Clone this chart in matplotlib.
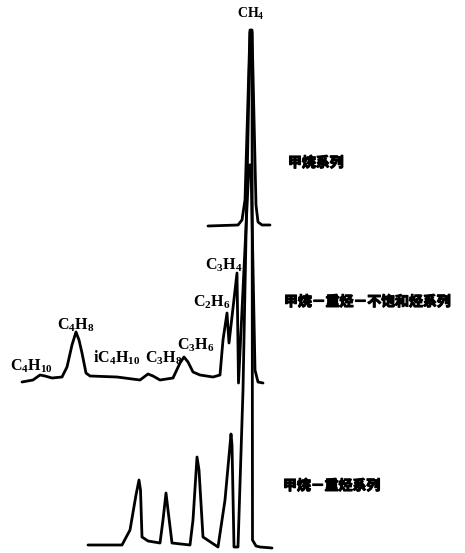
import matplotlib
matplotlib.use('Agg')
import matplotlib.pyplot as plt
import matplotlib.patheffects as pe

plt.rcParams['mathtext.fontset'] = 'custom'
plt.rcParams['mathtext.rm'] = 'Liberation Serif'
plt.rcParams['mathtext.bf'] = 'Liberation Serif:bold'

# --- trace 1 : 甲烷系列 (top) ---
t_a = [208, 238, 242, 245, 250, 252, 256, 258, 262, 270]
r_a = [-1, 0, 5, 25, 195, 195, 20, 3, 0, 0]
base_a = 328

# --- trace 2 : 甲烷-重烃-不饱和烃系列 (middle) ---
t_b = [22, 33, 40, 45, 52, 62, 67, 72, 76, 79, 82, 86, 90, 117, 140,
       148, 153, 160, 173, 180, 184, 188, 193, 200, 213, 220, 223, 227,
       229, 237, 238.5, 249, 251, 255, 258, 263]
r_b = [-1, 1, 6, 5, 3, 4, 14, 36, 49, 41, 28, 8, 5, 4, 1,
       7, 5, 1, 3, 18, 24, 19, 9, 6, 4, 6, 41, 68,
       38, 108, -2, 216, 216, 11, -1, -2]
base_b = 172

# --- trace 3 : 甲烷-重烃系列 (bottom) ---
t_c = [88, 122, 130, 136, 139, 140.5, 142, 148, 160, 163, 166, 168, 172,
       190, 193, 197, 199, 203, 212, 218, 225, 231, 232, 234, 238, 243,
       250, 252, 252.5, 256, 260, 272]
r_c = [0, 0, 15, 50, 65, 55, 8, 4, 2, 25, 52, 35, 2,
       0, 25, 88, 75, 8, 2, -2, 45, 111, 100, -2, -2, 155,
       513, 513, 5, -1, -2, -3]
base_c = 8

peak_labels = [r'$\mathbf{C_4H_{10}}$', r'$\mathbf{C_4H_8}$', r'$\mathbf{iC_4H_{10}}$',
               r'$\mathbf{C_3H_8}$', r'$\mathbf{C_3H_6}$', r'$\mathbf{C_2H_6}$',
               r'$\mathbf{C_3H_4}$']
label_x = [10, 57, 93, 145, 177, 193, 205]
label_y = [187, 228, 195, 195, 208, 251, 288]

series_names = ['甲烷系列', '甲烷－重烃－不饱和烃系列', '甲烷－重烃系列']
series_x = [288, 284, 283]
series_y = [390, 251, 67]

fig = plt.figure(figsize=(4.65, 5.53), dpi=100)
ax = fig.add_axes([0, 0, 1, 1])
ax.set_xlim(0, 465)
ax.set_ylim(0, 553)
ax.axis('off')

for t, r, b in [(t_a, r_a, base_a), (t_b, r_b, base_b), (t_c, r_c, base_c)]:
    ax.plot(t, [v + b for v in r], color='black', lw=2.0,
            solid_joinstyle='round', solid_capstyle='round')

ax.text(251, 539, r'$\mathbf{CH_4}$', ha='center', va='center', fontsize=10)
for lab, x, y in zip(peak_labels, label_x, label_y):
    ax.text(x, y, lab, ha='left', va='center', fontsize=11.5)

for name, x, y in zip(series_names, series_x, series_y):
    ax.text(x, y, name, ha='left', va='center', fontsize=10,
            family=['Noto Sans CJK SC', 'DejaVu Sans'], fontweight='heavy',
            path_effects=[pe.withStroke(linewidth=0.9, foreground='black')])

fig.savefig('out.png', dpi=100, facecolor='white')
